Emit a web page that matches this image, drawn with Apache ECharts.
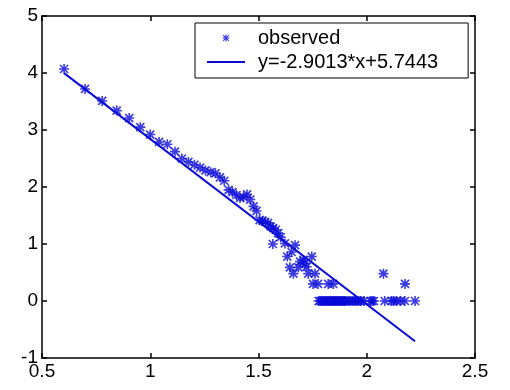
<!DOCTYPE html>
<html>
<head>
<meta charset="utf-8">
<script src="https://cdn.jsdelivr.net/npm/echarts@6/dist/echarts.min.js"></script>
<style>
  html, body { margin: 0; padding: 0; background: #fff; }
  #chart { width: 510px; height: 390px; }
</style>
</head>
<body>
<div id="chart"></div>
<script>
// observed points
var observedX = [
  0.602, 0.699, 0.778, 0.845, 0.903, 0.954, 1.000, 1.041, 1.079, 1.114,
  1.146, 1.176, 1.204, 1.230, 1.255, 1.279, 1.301, 1.322, 1.342, 1.362,
  1.380, 1.398, 1.415, 1.431, 1.447, 1.462, 1.477, 1.491, 1.505, 1.519,
  1.531, 1.544, 1.556, 1.568, 1.580, 1.591, 1.566, 1.602, 1.622, 1.633,
  1.645, 1.653, 1.661, 1.669, 1.684, 1.692, 1.707, 1.715, 1.722, 1.730,
  1.746, 1.752, 1.761, 1.775, 1.822, 1.845, 2.077, 2.177,
  1.778, 1.785, 1.792, 1.799, 1.806, 1.813, 1.820, 1.826, 1.833, 1.839,
  1.845, 1.851, 1.857, 1.863, 1.869, 1.875, 1.881, 1.886, 1.892, 1.898,
  1.903, 1.914, 1.924, 1.934, 1.944, 1.954, 1.964, 1.973, 1.987, 2.017,
  2.025, 2.033, 2.083, 2.114, 2.124, 2.137, 2.155, 2.176, 2.223
];
var observedY = [
  4.07, 3.72, 3.51, 3.34, 3.21, 3.05, 2.92, 2.79, 2.75, 2.62,
  2.50, 2.44, 2.39, 2.34, 2.29, 2.26, 2.24, 2.17, 2.11, 1.95,
  1.91, 1.86, 1.81, 1.82, 1.87, 1.78, 1.66, 1.58, 1.42, 1.41,
  1.39, 1.37, 1.31, 1.28, 1.25, 1.19, 1.00, 1.12, 1.01, 0.78,
  0.59, 0.86, 0.48, 0.98, 0.59, 0.69, 0.72, 0.66, 0.60, 0.48,
  0.78, 0.30, 0.48, 0.30, 0.30, 0.30, 0.48, 0.30,
  0, 0, 0, 0, 0, 0, 0, 0, 0, 0,
  0, 0, 0, 0, 0, 0, 0, 0, 0, 0,
  0, 0, 0, 0, 0, 0, 0, 0, 0, 0,
  0, 0, 0, 0, 0, 0, 0, 0, 0
];

// fitted line end points
var fitX = [0.602, 2.223];
var fitY = [3.998, -0.705];

var fitName = 'y=-2.9013*x+5.7443';

var xTicks = { min: 0.5, max: 2.5, step: 0.5 };
var yTicks = { min: -1, max: 5, step: 1 };

// matlab style '*' marker
var star = 'path://M4.2 0H5.8V10H4.2Z M0 4.2H10V5.8H0Z M0.4 1.6L1.6 0.4L9.6 8.4L8.4 9.6Z M8.4 0.4L9.6 1.6L1.6 9.6L0.4 8.4Z';
var lineIcon = 'path://M0 0H40V2H0Z';

var blue = '#0a0ad8';
var font = 'Liberation Sans, Arial, sans-serif';

function zip(a, b){
  var out = [];
  for (var i = 0; i < a.length; i++) out.push([a[i], b[i]]);
  return out;
}

function axisBase(show){
  return {
    axisLine: { show: true, onZero: false, lineStyle: { color: '#000', width: 1.5 } },
    axisTick: { show: true, inside: true, length: 5, lineStyle: { color: '#000', width: 1.5 } },
    axisLabel: { show: show, color: '#000', fontSize: 19, fontFamily: font, margin: 4 },
    splitLine: { show: false }
  };
}

var chart = echarts.init(document.getElementById('chart'));

var xa = axisBase(true), xb = axisBase(false), ya = axisBase(true), yb = axisBase(false);

chart.setOption({
  animation: false,
  backgroundColor: '#fff',
  grid: { left: 42, right: 35, top: 16, bottom: 32, containLabel: false },
  xAxis: [
    Object.assign(xa, { type: 'value', position: 'bottom', min: xTicks.min, max: xTicks.max, interval: xTicks.step }),
    Object.assign(xb, { type: 'value', position: 'top', min: xTicks.min, max: xTicks.max, interval: xTicks.step })
  ],
  yAxis: [
    Object.assign(ya, { type: 'value', position: 'left', min: yTicks.min, max: yTicks.max, interval: yTicks.step }),
    Object.assign(yb, { type: 'value', position: 'right', min: yTicks.min, max: yTicks.max, interval: yTicks.step })
  ],
  legend: {
    data: [{ name: 'observed' }, { name: fitName, icon: lineIcon }],
    orient: 'vertical',
    left: 195,
    top: 23,
    padding: [5, 30, 6, 12],
    itemGap: 4,
    itemWidth: 38,
    itemHeight: 7,
    borderColor: '#000',
    borderWidth: 1,
    borderRadius: 0,
    backgroundColor: '#fff',
    selectedMode: false,
    textStyle: { fontSize: 20, fontFamily: font, color: '#000', padding: [0, 0, 0, 8] }
  },
  series: [
    {
      name: 'observed',
      type: 'scatter',
      data: zip(observedX, observedY),
      symbol: star,
      symbolSize: 10,
      symbolKeepAspect: true,
      itemStyle: { color: blue },
      z: 3
    },
    {
      name: fitName,
      type: 'line',
      data: zip(fitX, fitY),
      symbol: 'none',
      lineStyle: { color: blue, width: 2 },
      itemStyle: { color: blue },
      z: 2
    }
  ]
});
</script>
</body>
</html>
